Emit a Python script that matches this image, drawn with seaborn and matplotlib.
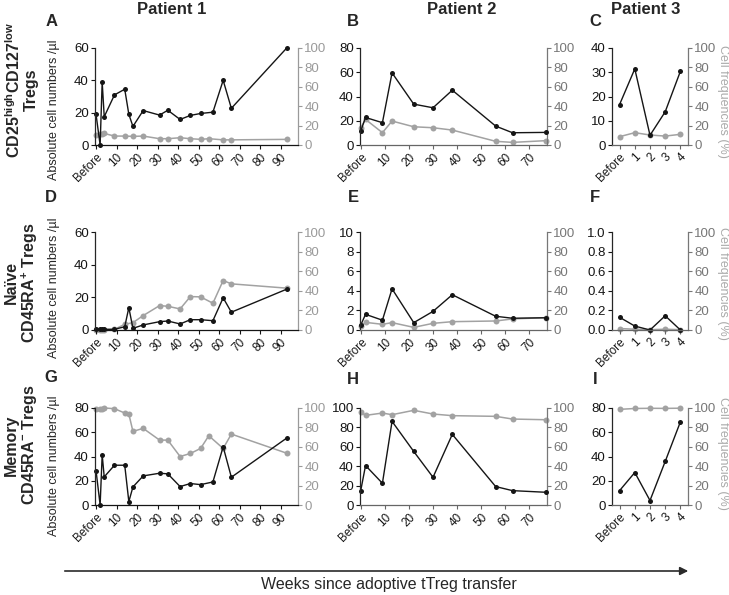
import numpy as np
import pandas as pd
import matplotlib
matplotlib.use("Agg")
import matplotlib.pyplot as plt
import seaborn as sns

# Weeks since transfer (0 = "Before")
p1_weeks = [0, 2, 3, 4, 9, 14, 16, 18, 23, 31, 35, 41, 46, 51, 57, 62, 66, 93]
p2_weeks = [0, 2, 9, 13, 22, 30, 38, 56, 63, 77]
p3_visits = [0, 1, 2, 3, 4]

# Patient 1
a_counts = [19, 0, 39, 17.5, 31, 34.5, 19, 11.5, 21.3, 18.5, 21.5, 15.8, 18.3, 19.5, 20.3, 40, 22.7, 60]
a_freq_weeks = [0, 2, 3, 4, 9, 14, 18, 23, 31, 35, 41, 46, 51, 55, 62, 66, 93]
a_freq = [10.6, 11, 10.9, 11.9, 9.2, 9.2, 8.9, 9.2, 6.5, 6.5, 7.5, 6.5, 5.8, 6.5, 5.3, 5.3, 5.8]

d_counts = [0.4, 0.4, 0.6, 0.4, 0.4, 2, 13.7, 1, 3.1, 5.1, 5.5, 3.7, 6.3, 6.3, 5.7, 19.7, 10.9, 25]
d_freq_weeks = [0, 2, 3, 4, 9, 14, 18, 23, 31, 35, 41, 46, 51, 57, 62, 66, 93]
d_freq = [0.5, 0.5, 0.5, 0.5, 0.7, 5.8, 7.5, 14.7, 24.9, 24.2, 21.5, 34.1, 33.8, 27.3, 50.5, 47.1, 42.7]

g_counts = [28.4, 0, 41.4, 23.2, 32.8, 32.8, 2.8, 14.9, 24, 26.2, 25.7, 15.2, 17.7, 16.8, 19, 48, 22.9, 55.2]
g_freq_weeks = [0, 2, 3, 4, 9, 14, 16, 18, 23, 31, 35, 41, 46, 51, 55, 62, 66, 93]
g_freq = [98.6, 98.6, 98.6, 100, 99.3, 94.8, 93.8, 75.9, 79, 66.9, 66.9, 50, 53.1, 58.3, 71.4, 58.3, 73.1, 53.4]

# Patient 2
b_counts = [11.5, 22.7, 18.4, 59.5, 33.7, 30.7, 45.2, 15.6, 10.1, 10.4]
b_freq = [17.8, 26.4, 12.7, 24.7, 18.8, 17.8, 15.4, 3.8, 2.7, 4.5]
e_counts = [0.5, 1.6, 1.0, 4.2, 0.75, 1.9, 3.6, 1.4, 1.2, 1.25]
e_freq = [4, 7.8, 5.8, 7.5, 2.7, 6.8, 8.5, 9.2, 11.3, 12.6]
h_counts = [14.8, 40.7, 22.4, 86.2, 55.2, 28.6, 72.8, 19, 14.8, 13.1]
h_freq = [95.9, 92.4, 94.8, 93.1, 97.6, 93.8, 92.1, 91.4, 88.6, 87.9]

# Patient 3
c_counts = [16.7, 31.4, 4, 13.7, 30.4]
c_freq = [8.6, 12.7, 10.3, 9.2, 11]
f_counts = [0.13, 0.04, 0, 0.145, 0]
f_freq = [1.5, 0.8, 0.3, 0.8, 0.3]
i_counts = [11.9, 26.8, 3.7, 35.9, 68.6]
i_freq = [98.6, 99.5, 99.7, 99.6, 99.8]

p1_ticks = [0, 10, 20, 30, 40, 50, 60, 70, 80, 90]
p1_labels = ["Before", "10", "20", "30", "40", "50", "60", "70", "80", "90"]
p2_ticks = [0, 10, 20, 30, 40, 50, 60, 70]
p2_labels = ["Before", "10", "20", "30", "40", "50", "60", "70"]
p3_ticks = [0, 1, 2, 3, 4]
p3_labels = ["Before", "1", "2", "3", "4"]

BLACK = "#151515"
GRAY = "#a2a2a2"

sns.set_style("ticks")
plt.rcParams["font.family"] = ["Liberation Sans", "DejaVu Sans"]
plt.rcParams["mathtext.fontset"] = "custom"
plt.rcParams["mathtext.rm"] = "Liberation Sans"
plt.rcParams["mathtext.bf"] = "Liberation Sans:bold"

W, H = 729, 595
fig = plt.figure(figsize=(W / 100, H / 100), dpi=100)


def box(x0, x1, y0, y1):
    return [x0 / W, 1 - y1 / H, (x1 - x0) / W, (y1 - y0) / H]


def panel(pos, weeks, counts, fweeks, freqs, ymax, ystep, xlim, xticks, xlabels,
          right_color, bottom_color, yfmt="{:g}"):
    ax = fig.add_axes(pos)
    ax2 = ax.twinx()
    sns.lineplot(x=fweeks, y=freqs, ax=ax2, color=GRAY, marker="o", markersize=4.3,
                 markeredgewidth=0, linewidth=1.1, estimator=None, clip_on=False)
    sns.lineplot(x=weeks, y=counts, ax=ax, color=BLACK, marker="o", markersize=3.6,
                 markeredgewidth=0, linewidth=1.0, estimator=None, clip_on=False)
    ax.set_zorder(ax2.get_zorder() + 1)
    ax.patch.set_visible(False)

    ax.set_xlim(*xlim)
    ax.set_ylim(0, ymax)
    yt = np.arange(0, ymax + ystep / 2, ystep)
    ax.set_yticks(yt)
    ax.set_yticklabels([yfmt.format(v) for v in yt], fontsize=9.5)
    ax.set_xticks(xticks)
    ax.set_xticklabels(xlabels, rotation=45, ha="right", rotation_mode="anchor", fontsize=8.5)
    ax2.set_ylim(0, 100)
    ax2.set_yticks(range(0, 101, 20))
    ax2.set_yticklabels([str(v) for v in range(0, 101, 20)], fontsize=9.5)
    ax.set_xlabel("")
    ax.set_ylabel("")
    ax2.set_ylabel("")

    for s in ["top", "right"]:
        ax.spines[s].set_visible(False)
    for s in ["top", "left", "bottom"]:
        ax2.spines[s].set_visible(False)
    ax2.spines["right"].set_color(right_color)
    ax.spines["bottom"].set_color(bottom_color)
    for sp in list(ax.spines.values()) + list(ax2.spines.values()):
        sp.set_linewidth(0.9)
    ax.tick_params(axis="y", length=3, width=0.8, pad=1.5, colors=BLACK)
    ax.tick_params(axis="x", length=3, width=0.8, pad=1.5, colors=bottom_color, labelcolor=BLACK)
    ax2.tick_params(axis="y", length=3, width=0.8, pad=1.5, colors=right_color)
    return ax, ax2


cols = [(95, 298), (360, 547), (612, 688)]
rows = [(48, 145), (232, 330), (408, 505)]

p1x = (-0.5, 98.5)
p2x = (-0.3, 77.3)
p3x = (-0.5, 4.5)

c1, c2 = "#9a9a9a", "#777777"

panel(box(*cols[0], *rows[0]), p1_weeks, a_counts, a_freq_weeks, a_freq, 60, 20, p1x, p1_ticks, p1_labels, c1, BLACK)
panel(box(*cols[0], *rows[1]), p1_weeks, d_counts, d_freq_weeks, d_freq, 60, 20, p1x, p1_ticks, p1_labels, c1, BLACK)
panel(box(*cols[0], *rows[2]), p1_weeks, g_counts, g_freq_weeks, g_freq, 80, 20, p1x, p1_ticks, p1_labels, c1, BLACK)

panel(box(*cols[1], *rows[0]), p2_weeks, b_counts, p2_weeks, b_freq, 80, 20, p2x, p2_ticks, p2_labels, c2, "#666666")
panel(box(*cols[1], *rows[1]), p2_weeks, e_counts, p2_weeks, e_freq, 10, 2, p2x, p2_ticks, p2_labels, c2, "#666666")
panel(box(*cols[1], *rows[2]), p2_weeks, h_counts, p2_weeks, h_freq, 100, 20, p2x, p2_ticks, p2_labels, c2, "#666666")

panel(box(*cols[2], *rows[0]), p3_visits, c_counts, p3_visits, c_freq, 40, 10, p3x, p3_ticks, p3_labels, c2, "#666666")
panel(box(*cols[2], *rows[1]), p3_visits, f_counts, p3_visits, f_freq, 1.0, 0.2, p3x, p3_ticks, p3_labels, c2, "#666666", "{:.1f}")
panel(box(*cols[2], *rows[2]), p3_visits, i_counts, p3_visits, i_freq, 80, 20, p3x, p3_ticks, p3_labels, c2, "#666666")

# titles and panel letters
for x, t in [(172, "Patient 1"), (462, "Patient 2"), (646, "Patient 3")]:
    fig.text(x / W, 1 - 9 / H, t, ha="center", va="center", fontsize=12, fontweight="bold")
letters = [("A", 52, 22), ("B", 353, 22), ("C", 595, 22),
           ("D", 51, 198), ("E", 353, 198), ("F", 595, 198),
           ("G", 51, 378), ("H", 353, 380), ("I", 595, 380)]
for t, x, y in letters:
    fig.text(x / W, 1 - y / H, t, ha="center", va="center", fontsize=12, fontweight="bold")

# row labels
row_labels = [("CD25$^{\\mathbf{high}}$CD127$^{\\mathbf{low}}$\nTregs", 90),
              ("Naïve\nCD45RA$^{\\mathbf{+}}$ Tregs", 283),
              ("Memory\nCD45RA$^{\\mathbf{-}}$ Tregs", 445)]
for t, y in row_labels:
    fig.text(21.5 / W, 1 - y / H, t, rotation=90, ha="center", va="center", fontsize=11.5,
             fontweight="bold", multialignment="center", linespacing=1.05)

for y in [110, 288, 466]:
    fig.text(54 / W, 1 - y / H, "Absolute cell numbers /µl", rotation=90, ha="center",
             va="center", fontsize=9)
for y in [101, 283, 453]:
    fig.text(723 / W, 1 - y / H, "Cell frequencies (%)", rotation=270, ha="center",
             va="center", fontsize=9, color="#aaaaaa")

# time arrow
fig.add_artist(matplotlib.patches.FancyArrowPatch(
    (62 / W, 1 - 571 / H), (691 / W, 1 - 571 / H), transform=fig.transFigure,
    arrowstyle="-|>", mutation_scale=12, color="#2a2a2a", linewidth=1.2))
fig.text(389 / W, 1 - 585 / H, "Weeks since adoptive tTreg transfer", ha="center",
         va="center", fontsize=11.5)

fig.savefig("out.png", dpi=100)
